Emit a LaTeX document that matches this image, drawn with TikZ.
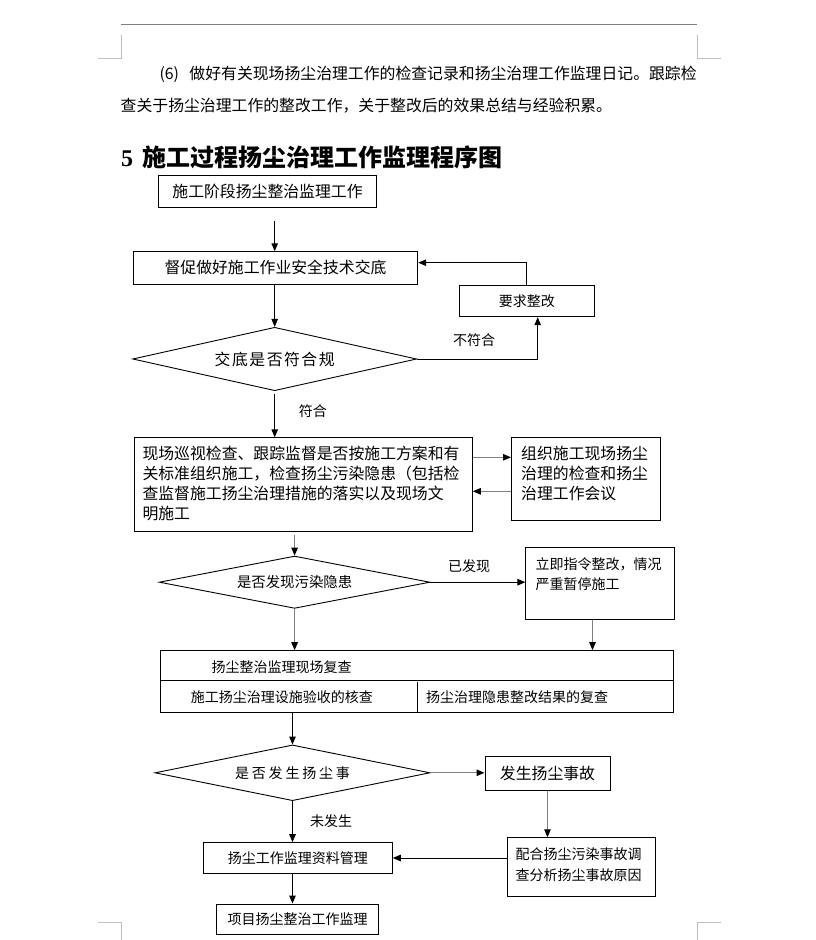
\documentclass[tikz,border=0pt]{standalone}
\usepackage{fontspec}
\setmainfont{Noto Sans CJK SC}
\newfontfamily\numfont{Liberation Serif}
\usetikzlibrary{calc,arrows.meta,shapes.geometric}

% multi-line box text, top aligned: height, width, lines
\newcommand\boxlines[3]{\parbox[c][#1][t]{#2}{\rule{0pt}{16pt}#3}}

\begin{document}
\begin{tikzpicture}[x=1pt,y=-1pt,
  box/.style={draw,line width=1pt,inner sep=0pt,font=\fontsize{15.85}{20}\selectfont},
  sbox/.style={box,font=\fontsize{14}{20}\selectfont},
  dia/.style={draw,diamond,line width=0.9pt,inner sep=0pt},
  lbl/.style={inner sep=0pt,font=\fontsize{14}{16}\selectfont},
  arr/.style={line width=1pt,-{Triangle[length=8pt,width=6.5pt]}},
  garr/.style={line width=1pt,draw=black!50,-{Triangle[length=8pt,width=6.5pt,color=black]}}]

  % page
  \useasboundingbox[fill=white] (0,0) rectangle (815,940);
  \draw[line width=1pt,black!50] (120.5,24.3) -- (697,24.3);
  \draw[line width=1pt,black!25] (98,58.3) -- (121.7,58.3) -- (121.7,35);
  \draw[line width=1pt,black!25] (721,58.3) -- (697,58.3) -- (697,35);
  \draw[line width=1pt,black!25] (98,922.3) -- (121.7,922.3) -- (121.7,940);
  \draw[line width=1pt,black!25] (721,922.3) -- (697,922.3) -- (697,940);

  % text above the chart
  \node[anchor=west,inner sep=0pt,font=\fontsize{15.85}{20}\selectfont] (par1) at (159.3,74)
    {\makebox[30pt][l]{(6)}做好有关现场扬尘治理工作的检查记录和扬尘治理工作监理日记。跟踪检};
  \node[anchor=west,inner sep=0pt,font=\fontsize{15.85}{20}\selectfont] (par2) at (120.5,106)
    {查关于扬尘治理工作的整改工作，关于整改后的效果总结与经验积累。};
  \node[anchor=west,inner sep=0pt,font=\fontsize{24}{28}\selectfont\bfseries] (title) at (121,157)
    {{\numfont\bfseries 5}\hspace{9pt}施工过程扬尘治理工作监理程序图};

  % boxes
  \node[box,minimum width=218.4pt,minimum height=32.3pt] (start) at (267.5,191.2) {施工阶段扬尘整治监理工作};
  \node[box,minimum width=284.4pt,minimum height=32.3pt] (brief) at (275.5,267.9) {督促做好施工作业安全技术交底};
  \node[sbox,minimum width=135pt,minimum height=31pt] (fix) at (526.8,301.2) {要求整改};
  \node[dia,aspect=4.48,minimum width=284pt,minimum height=63.4pt,font=\fontsize{15.85}{20}\selectfont] (ok) at (274.7,359)
    {交\kern1.5pt 底\kern1.5pt 是\kern1.5pt 否\kern1.5pt 符\kern1.5pt 合\kern1.5pt 规};

  \node[box,anchor=north west,inner xsep=8.4pt,inner ysep=6pt] (patrol) at (133.6,437.3)
    {\boxlines{81.7pt}{321.4pt}{现场巡视检查、跟踪监督是否按施工方案和有\\
      关标准组织施工，检查扬尘污染隐患（包括检\\
      查监督施工扬尘治理措施的落实以及现场文\\
      明施工}};
  \node[box,anchor=north west,inner xsep=9.7pt,inner ysep=5.7pt] (meet) at (511,437.3)
    {\boxlines{71.3pt}{130pt}{组织施工现场扬尘\\治理的检查和扬尘\\治理工作会议}};

  \node[dia,aspect=5.18,minimum width=270.7pt,minimum height=52.3pt,font=\fontsize{14.4}{16}\selectfont] (found) at (294.6,582.2)
    {是否发现污染隐患};
  \node[sbox,anchor=north west,inner xsep=9.6pt,inner ysep=5.9pt] (stop) at (525.4,546.7)
    {\boxlines{60.8pt}{129pt}{立即指令整改，情况\\严重暂停施工}};

  % recheck table
  \node[box,minimum width=513.2pt,minimum height=61.6pt] (recheck) at (417,681.5) {};
  \draw[line width=1pt] ($(recheck.north west)+(0,30.3)$) -- ($(recheck.north east)+(0,30.3)$);
  \draw[line width=1pt] ($(recheck.south west)+(257.1,0)$) -- ++(0,-31.3);
  \node[lbl] (rc1) at (281.7,666.7) {扬尘整治监理现场复查};
  \node[lbl] (rc2) at (281.8,696.7) {施工扬尘治理设施验收的核查};
  \node[lbl] (rc3) at (517,696.7) {扬尘治理隐患整改结果的复查};

  \node[dia,aspect=4.94,minimum width=275pt,minimum height=55.7pt,font=\fontsize{14}{16}\selectfont] (acc) at (292.5,772.8)
    {是\kern2.8pt 否\kern2.8pt 发\kern2.8pt 生\kern2.8pt 扬\kern2.8pt 尘\kern2.8pt 事};
  \node[box,minimum width=125pt,minimum height=34pt] (hap) at (547.5,773.7) {发生扬尘事故};
  \node[box,anchor=north west,inner xsep=8.3pt,inner ysep=5.3pt,font=\fontsize{14}{21.7}\selectfont] (probe) at (506.7,837.3)
    {\boxlines{47.8pt}{131.7pt}{配合扬尘污染事故调\\查分析扬尘事故原因}};
  \node[sbox,minimum width=189pt,minimum height=30.6pt] (docs) at (297.8,858) {扬尘工作监理资料管理};
  \node[sbox,minimum width=161.6pt,minimum height=30pt] (proj) at (297.5,919) {项目扬尘整治工作监理};

  % connectors
  \draw[arr] (start.south -| ok.north) ++(0,13) -- (brief.north -| ok.north);
  \draw[arr] (brief.south -| ok.north) -- (ok.north);
  \draw[arr] (ok.east) -| ([xshift=10.9pt]fix.south);
  \node[lbl] (no) at (474,340) {不符合};
  \draw[arr] (fix.north) |- ([yshift=5.2pt]brief.east);
  \draw[arr] (ok.south) ++(0,3) -- (ok.south |- patrol.north);
  \node[lbl] (yes) at (312.8,410.7) {符合};

  \draw[garr] ($(patrol.north east)+(0,20)$) -- ($(meet.north west)+(0,20)$);
  \draw[garr] ($(meet.north west)+(0,54)$) -- ($(patrol.north east)+(0,54)$);
  \draw[garr] (found.north |- patrol.south) ++(0,3) -- (found.north);

  \draw[arr] (found.east) -- (found.east -| stop.west);
  \node[lbl] (seen) at (469,566) {已发现};
  \draw[garr] (found.south) -- (found.south |- recheck.north);
  \draw[garr] ([xshift=-7.5pt]stop.south) -- ([xshift=-7.5pt]stop.south |- recheck.north);

  \draw[arr] (acc.north |- recheck.south) -- (acc.north);
  \draw[garr] (acc.east) -- (acc.east -| hap.west);
  \draw[garr] (hap.south) -- (hap.south |- probe.north);
  \draw[arr] (probe.west |- docs.east) -- (docs.east);
  \draw[arr] (acc.south) -- (acc.south |- docs.north);
  \node[lbl] (none) at (331.2,820.7) {未发生};
  \draw[arr] (docs.south -| acc.south) -- (proj.north -| acc.south);
\end{tikzpicture}
\end{document}
